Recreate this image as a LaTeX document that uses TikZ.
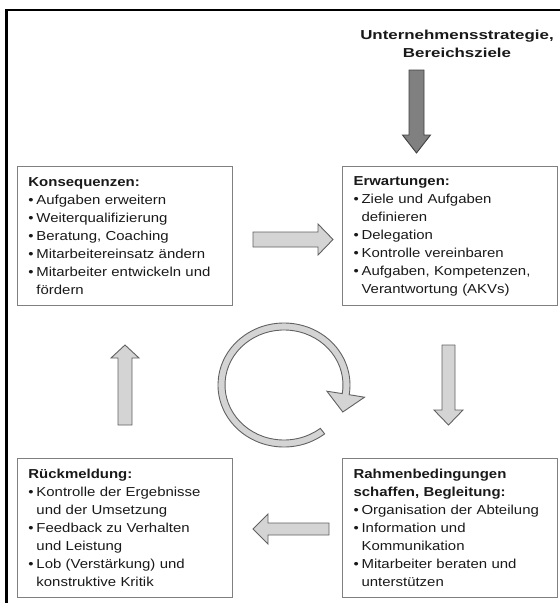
\documentclass[tikz,border=0pt]{standalone}
\usepackage{fontspec}
\setmainfont{Liberation Sans}[FakeStretch=1.15]
\newfontfamily\titlefont{Liberation Sans}[FakeStretch=1.3]
\usetikzlibrary{positioning,calc}

% bullet line and its continuation
\newcommand{\itm}[1]{\makebox[8pt][l]{\textbullet}#1}
\newcommand{\cnt}[1]{\hspace*{8pt}#1}

\begin{document}
\begin{tikzpicture}[
    x=1pt, y=-1pt,
    font=\fontsize{13}{18}\selectfont,
    txtbox/.style={draw=black!50, line width=1.1pt, anchor=north west,
        minimum width=215pt, minimum height=139pt, text width=193pt,
        inner xsep=11pt, inner ysep=0pt, align=left, text=black!90},
    lightarr/.style={draw=black!62, fill=black!17, line width=0.9pt, line join=miter},
    darkarr/.style={draw=black!75, fill=black!50, line width=0.9pt, line join=miter},
    titel/.style={font={\fontsize{13}{18}\titlefont\bfseries}, align=center, text=black!90},
]
\useasboundingbox (0,0) rectangle (560,603);

% frame
\draw[line width=2.3pt, line join=miter] (6.5,605) -- (6.5,10) -- (562,10);

\node[titel] (ziel) at (457,44) {Unternehmensstrategie,\\Bereichsziele};

\node[txtbox] (erw) at (342,166) {\textbf{Erwartungen:}\\
\itm{Ziele und Aufgaben}\\
\cnt{definieren}\\
\itm{Delegation}\\
\itm{Kontrolle vereinbaren}\\
\itm{Aufgaben, Kompetenzen,}\\
\cnt{Verantwortung (AKVs)}};
\node[txtbox, left=109pt of erw] (kons) {\textbf{Konsequenzen:}\\
\itm{Aufgaben erweitern}\\
\itm{Weiterqualifizierung}\\
\itm{Beratung, Coaching}\\
\itm{Mitarbeitereinsatz ändern}\\
\itm{Mitarbeiter entwickeln und}\\
\cnt{fördern}};
\node[txtbox, below=152pt of kons] (rueck) {\textbf{Rückmeldung:}\\
\itm{Kontrolle der Ergebnisse}\\
\cnt{und der Umsetzung}\\
\itm{Feedback zu Verhalten}\\
\cnt{und Leistung}\\
\itm{Lob (Verstärkung) und}\\
\cnt{konstruktive Kritik}};
\node[txtbox, below=152pt of erw] (rahmen) {\textbf{Rahmenbedingungen}\\
\textbf{schaffen, Begleitung:}\\
\itm{Organisation der Abteilung}\\
\itm{Information und}\\
\cnt{Kommunikation}\\
\itm{Mitarbeiter beraten und}\\
\cnt{unterstützen}};

% strategy arrow
\draw[darkarr] (409,70) -- (424,70) -- (424,135) -- (430.5,135) -- (416.5,153)
    -- (402.5,135) -- (409,135) -- cycle;

% cycle arrows between the boxes
\draw[lightarr] (253,232) -- (318,232) -- (318,224) -- (333,239.5) -- (318,255)
    -- (318,247) -- (253,247) -- cycle;
\draw[lightarr] (442,345) -- (455,345) -- (455,410) -- (463,410) -- (448.5,425)
    -- (434,410) -- (442,410) -- cycle;
\draw[lightarr] (329,523) -- (268,523) -- (268,514) -- (253,529) -- (268,544)
    -- (268,535) -- (329,535) -- cycle;
\draw[lightarr] (118,425) -- (132,425) -- (132,358) -- (139,358) -- (125,345)
    -- (111,358) -- (118,358) -- cycle;

% round arrow in the middle
\coordinate (mitte) at (284,385);
\draw[lightarr] ($(mitte)+(52:66 and 62)$) arc[start angle=52, end angle=369, x radius=66, y radius=62]
    -- (364.5,397.2) -- (342.8,412) -- (326.9,391.2)
    -- ($(mitte)+(369:59 and 55)$) arc[start angle=369, end angle=52, x radius=59, y radius=55]
    -- cycle;
\end{tikzpicture}
\end{document}
